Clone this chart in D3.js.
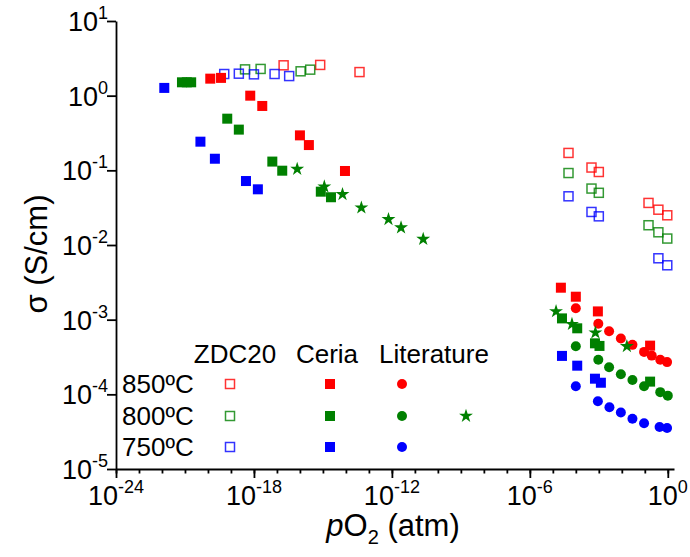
<!DOCTYPE html>
<html><head><meta charset="utf-8">
<script src="https://cdn.jsdelivr.net/npm/d3@7"></script>
<style>body{margin:0;background:#fff}svg{display:block;font-family:"Liberation Sans",Arial,sans-serif}</style>
</head><body><svg id="c" width="690" height="557"></svg>
<script>
// ---- data ----
const xTickExps = [-24, -18, -12, -6, 0];
const yTickExps = [1, 0, -1, -2, -3, -4, -5];

const zdc850_x = [1.95e-17, 7.6e-16, 3.9e-14, 4.8e-5, 4.8e-4, 1.0e-3, 0.145, 0.39, 0.95];
const zdc850_y = [2.55, 2.58, 2.07, 0.171, 0.109, 0.095, 0.0366, 0.0297, 0.025];
const zdc800_x = [4.1e-19, 1.95e-18, 1.07e-16, 2.8e-16, 4.8e-5, 4.8e-4, 1.0e-3, 0.145, 0.39, 0.95];
const zdc800_y = [2.25, 2.28, 2.12, 2.23, 0.092, 0.057, 0.050, 0.0184, 0.0148, 0.0122];
const zdc750_x = [5.1e-20, 2.2e-19, 1.0e-18, 7.9e-18, 3.4e-17, 4.8e-5, 4.8e-4, 1.0e-3, 0.39, 0.95];
const zdc750_y = [1.95, 1.97, 1.93, 1.95, 1.83, 0.0449, 0.0277, 0.0242, 0.00664, 0.00535];

const ceria850_x = [1.26e-20, 3.7e-20, 6.9e-19, 2.3e-18, 1.0e-16, 2.45e-16, 9.1e-15, 2.24e-5, 1.0e-4, 9.1e-4, 0.17];
const ceria850_y = [1.69, 1.73, 1.0, 0.728, 0.294, 0.218, 0.098, 2.68e-3, 2.03e-3, 1.29e-3, 4.49e-4];
const ceria800_x = [7.4e-22, 1.2e-21, 1.86e-21, 6.9e-20, 2.2e-19, 6.3e-18, 1.7e-17, 8.1e-16, 2.24e-15, 2.5e-5, 1.15e-4, 6.8e-4, 1.07e-3, 0.17];
const ceria800_y = [1.51, 1.51, 1.51, 0.492, 0.351, 0.131, 0.0989, 0.0518, 0.0436, 1.04e-3, 7.66e-4, 4.82e-4, 4.45e-4, 1.48e-4];
const ceria750_x = [1.26e-22, 4.7e-21, 2.0e-20, 4.5e-19, 1.48e-18, 2.5e-5, 1.15e-4, 6.8e-4, 1.23e-3];
const ceria750_y = [1.27, 0.242, 0.143, 0.0719, 0.0557, 3.27e-4, 2.42e-4, 1.62e-4, 1.43e-4];

const lit850_x = [1e-4, 9.5e-4, 2.8e-3, 9.1e-3, 0.029, 0.093, 0.2, 0.47, 0.93];
const lit850_y = [1.42e-3, 8.8e-4, 7.0e-4, 5.6e-4, 4.6e-4, 3.7e-4, 3.3e-4, 2.9e-4, 2.7e-4];
const lit800_x = [1e-4, 9.5e-4, 2.8e-3, 9.1e-3, 0.029, 0.093, 0.47, 1.0];
const lit800_y = [4.4e-4, 2.9e-4, 2.3e-4, 1.86e-4, 1.56e-4, 1.28e-4, 1.07e-4, 9.6e-5];
const lit750_x = [1e-4, 9.1e-4, 2.9e-3, 9.1e-3, 0.029, 0.093, 0.44, 0.93];
const lit750_y = [1.28e-4, 8.1e-5, 6.7e-5, 5.7e-5, 4.7e-5, 4.1e-5, 3.66e-5, 3.54e-5];

const star800_x = [7.6e-17, 1.15e-15, 7.1e-15, 4.7e-14, 7.1e-13, 2.5e-12, 2.3e-11, 1.38e-5, 6.8e-5, 7.1e-4, 0.0166];
const star800_y = [0.104, 0.0604, 0.0478, 0.0316, 0.0221, 0.0171, 0.012, 1.29e-3, 8.7e-4, 6.7e-4, 4.4e-4];

const tempLabels = ["850ºC", "800ºC", "750ºC"];
const groupLabels = ["ZDC20", "Ceria", "Literature"];
const colors = ["#ff0000", "#008000", "#0000ff"];

// ---- chart ----
const svg = d3.select("#c");
const x = d3.scaleLog().domain([1e-24, Math.pow(10, 0.27)]).range([116, 674]);
const y = d3.scaleLog().domain([1e-5, 10]).range([469, 21]);

const zip = (a, b) => a.map((v, i) => [v, b[i]]);
const starPath = d3.symbol().type(d3.symbolStar).size(60)();
const g = svg.append("g");

function squares(data, color, open) {
  g.selectAll(null).data(data).enter().append("rect")
    .attr("x", d => x(d[0]) - (open ? 4.5 : 5))
    .attr("y", d => y(d[1]) - (open ? 4.5 : 5))
    .attr("width", open ? 9 : 10).attr("height", open ? 9 : 10)
    .attr("fill", open ? "none" : color)
    .attr("stroke", open ? color : "none")
    .attr("stroke-width", 1.5)
    .attr("stroke-opacity", open ? 0.8 : 1);
}
function circles(data, color) {
  g.selectAll(null).data(data).enter().append("circle")
    .attr("cx", d => x(d[0])).attr("cy", d => y(d[1])).attr("r", 5).attr("fill", color);
}
function stars(data, color) {
  g.selectAll(null).data(data).enter().append("path")
    .attr("d", starPath)
    .attr("transform", d => `translate(${x(d[0])},${y(d[1])})`)
    .attr("fill", color);
}

squares(zip(zdc850_x, zdc850_y), colors[0], true);
squares(zip(zdc800_x, zdc800_y), colors[1], true);
squares(zip(zdc750_x, zdc750_y), colors[2], true);
circles(zip(lit850_x, lit850_y), colors[0]);
circles(zip(lit800_x, lit800_y), colors[1]);
circles(zip(lit750_x, lit750_y), colors[2]);
squares(zip(ceria850_x, ceria850_y), colors[0], false);
squares(zip(ceria800_x, ceria800_y), colors[1], false);
squares(zip(ceria750_x, ceria750_y), colors[2], false);
stars(zip(star800_x, star800_y), colors[1]);

// axes
const xMinor = d3.range(-24, 1).map(e => Math.pow(10, e));
const xMajor = xTickExps.map(e => Math.pow(10, e));
const yMajor = yTickExps.map(e => Math.pow(10, e));

const xAxisG = svg.append("g").attr("transform", "translate(0,469)");
xAxisG.call(d3.axisBottom(x).tickValues(xMinor).tickSize(4.5).tickSizeOuter(0).tickFormat(""));
xAxisG.append("g").call(d3.axisBottom(x).tickValues(xMajor).tickSize(9).tickSizeOuter(0).tickFormat(""))
  .select(".domain").remove();
const yAxisG = svg.append("g").attr("transform", "translate(116,0)");
yAxisG.call(d3.axisLeft(y).tickValues(yMajor).tickSize(9).tickSizeOuter(0).tickFormat(""));
svg.selectAll(".domain, .tick line").attr("stroke", "#000").attr("stroke-width", 1.8);

// tick labels
xTickExps.forEach(e => {
  const t = svg.append("text").attr("x", x(Math.pow(10, e))).attr("y", 505)
    .attr("text-anchor", "middle").attr("font-size", 27);
  t.append("tspan").text("10");
  t.append("tspan").attr("font-size", 18).attr("dy", -12).text(String(e));
});
yTickExps.forEach(e => {
  const t = svg.append("text").attr("x", 108).attr("y", y(Math.pow(10, e)) + 10)
    .attr("text-anchor", "end").attr("font-size", 27);
  t.append("tspan").text("10");
  t.append("tspan").attr("font-size", 18).attr("dy", -12).text(String(e));
});

// axis titles
svg.append("text").attr("transform", "translate(47,254) rotate(-90)")
  .attr("text-anchor", "middle").attr("font-size", 31).text("σ (S/cm)");
const xt = svg.append("text").attr("x", 393).attr("y", 536).attr("text-anchor", "middle").attr("font-size", 31);
xt.append("tspan").attr("font-style", "italic").text("p");
xt.append("tspan").text("O");
xt.append("tspan").attr("font-size", 20).attr("dy", 8).text("2");
xt.append("tspan").attr("dy", -8).text(" (atm)");

// legend
const hdrX = [235, 327, 434];
groupLabels.forEach((s, i) => {
  svg.append("text").attr("x", hdrX[i]).attr("y", 363).attr("text-anchor", "middle")
    .attr("font-size", 26).text(s);
});
const rowY = [384, 416, 447];
tempLabels.forEach((s, i) => {
  svg.append("text").attr("x", 122).attr("y", rowY[i] + 9).attr("font-size", 26).text(s);
  svg.append("rect").attr("x", 230 - 4.5).attr("y", rowY[i] - 4.5).attr("width", 9).attr("height", 9)
    .attr("fill", "none").attr("stroke", colors[i]).attr("stroke-width", 1.5).attr("stroke-opacity", 0.8);
  svg.append("rect").attr("x", 330 - 5).attr("y", rowY[i] - 5).attr("width", 10).attr("height", 10)
    .attr("fill", colors[i]);
  svg.append("circle").attr("cx", 402).attr("cy", rowY[i]).attr("r", 5).attr("fill", colors[i]);
});
svg.append("path").attr("d", starPath).attr("transform", `translate(466,${rowY[1]})`).attr("fill", colors[1]);
</script>
</body></html>
